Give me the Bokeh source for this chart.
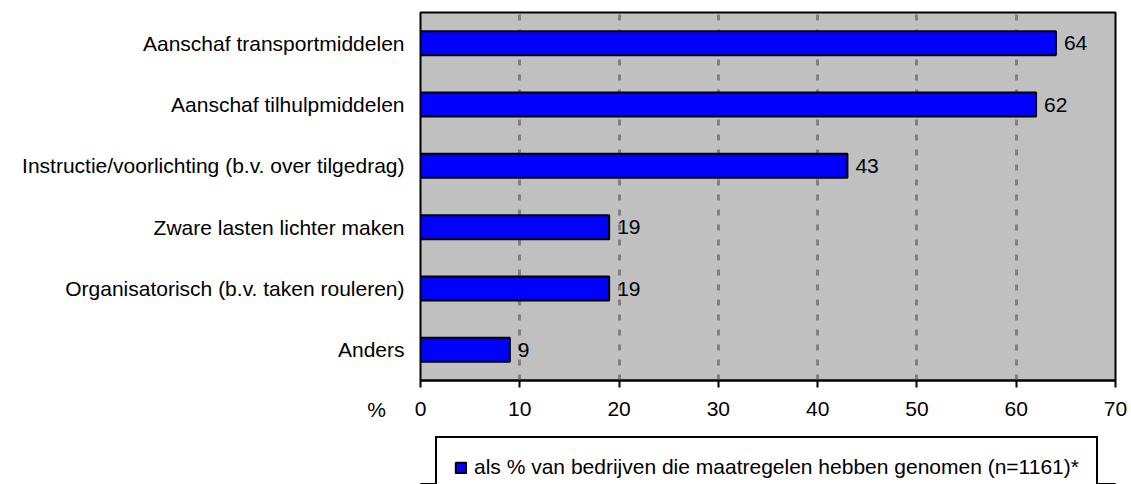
from bokeh.plotting import figure
from bokeh.layouts import column
from bokeh.models import (Range1d, FixedTicker, Legend, LegendItem, Label,
                          ColumnDataSource, LabelSet)
from bokeh.core.properties import value
from bokeh.embed import file_html
from bokeh.resources import INLINE

categories = [
    "Aanschaf transportmiddelen",
    "Aanschaf tilhulpmiddelen",
    "Instructie/voorlichting (b.v. over tilgedrag)",
    "Zware lasten lichter maken",
    "Organisatorisch (b.v. taken rouleren)",
    "Anders",
]
values = [64, 62, 43, 19, 19, 9]
x_ticks = [0, 10, 20, 30, 40, 50, 60, 70]
series_name = "als % van bedrijven die maatregelen hebben genomen (n=1161)*"
unit_label = "%"

FONT = "Liberation Sans"
FS = "21px"
BAR_STYLE = dict(fill_color="#0000ff", line_color="black", line_width=2)
n = len(categories)
ypos = [n - 1 - i for i in range(n)]

src = ColumnDataSource(dict(y=ypos, v=values, lab=[str(v) for v in values]))

p = figure(frame_width=695, frame_height=368, output_backend="svg",
           toolbar_location=None,
           x_range=Range1d(0, 70), y_range=Range1d(-0.5, n - 0.5),
           min_border_left=420, min_border_right=16, min_border_top=12,
           min_border_bottom=46)

p.background_fill_color = "#c0c0c0"
p.border_fill_color = "white"
p.outline_line_color = "black"
p.outline_line_width = 2

p.ygrid.grid_line_color = None
p.xgrid.ticker = FixedTicker(ticks=x_ticks)
p.xgrid.grid_line_color = "#808080"
p.xgrid.grid_line_width = 3
p.xgrid.grid_line_dash = "6 9"

r = p.hbar(y="y", right="v", left=0, height=0.39, source=src, **BAR_STYLE)

labels = LabelSet(x="v", y="y", text="lab", source=src, x_offset=8,
                  text_baseline="middle", text_font=value(FONT),
                  text_font_size=value(FS), text_color="black")
p.add_layout(labels)

p.xaxis.ticker = FixedTicker(ticks=x_ticks)
p.xaxis.axis_line_color = "black"
p.xaxis.axis_line_width = 2
p.xaxis.major_tick_line_color = "black"
p.xaxis.major_tick_line_width = 2
p.xaxis.major_tick_out = 7
p.xaxis.major_tick_in = 0
p.xaxis.minor_tick_line_color = None
p.xaxis.major_label_standoff = 14
p.xaxis.major_label_text_font = FONT
p.xaxis.major_label_text_font_size = FS
p.xaxis.major_label_text_color = "black"

p.yaxis.ticker = FixedTicker(ticks=ypos)
p.yaxis.major_label_overrides = {y: c for y, c in zip(ypos, categories)}
p.yaxis.axis_line_color = None
p.yaxis.major_tick_line_color = None
p.yaxis.minor_tick_line_color = None
p.yaxis.major_tick_out = 0
p.yaxis.major_tick_in = 0
p.yaxis.major_label_standoff = 16
p.yaxis.major_label_text_font = FONT
p.yaxis.major_label_text_font_size = FS
p.yaxis.major_label_text_color = "black"

pct = Label(x=0, y=-0.5, x_offset=-44, y_offset=-29, text=unit_label,
            text_align="center", text_baseline="middle", text_font=FONT,
            text_font_size=FS, text_color="black")
p.add_layout(pct, "left")

# legend strip below the chart (its key renderer shares the data but lies
# outside this strip's visible range, so only the legend box shows)
p2 = figure(width=1131, height=58, output_backend="svg", toolbar_location=None,
            x_range=Range1d(0, 1), y_range=Range1d(100, 101),
            min_border=0, x_axis_type=None, y_axis_type=None)
p2.grid.grid_line_color = None
p2.outline_line_color = None
p2.background_fill_color = "white"
p2.border_fill_color = "white"
key = p2.hbar(y="y", right="v", left=0, height=0.39, source=src, **BAR_STYLE)

legend = Legend(items=[LegendItem(label=series_name, renderers=[key])],
                location=(15, -14), orientation="horizontal", margin=0,
                padding=17, glyph_width=13, glyph_height=13,
                label_standoff=7, label_text_font=FONT,
                label_text_font_size=FS, label_text_color="black",
                border_line_color="black", border_line_width=2,
                border_line_alpha=1,
                background_fill_color="white", background_fill_alpha=1)
p2.add_layout(legend, "center")

layout = column(p, p2, spacing=0)
open("out.html", "w").write(file_html(layout, INLINE))
